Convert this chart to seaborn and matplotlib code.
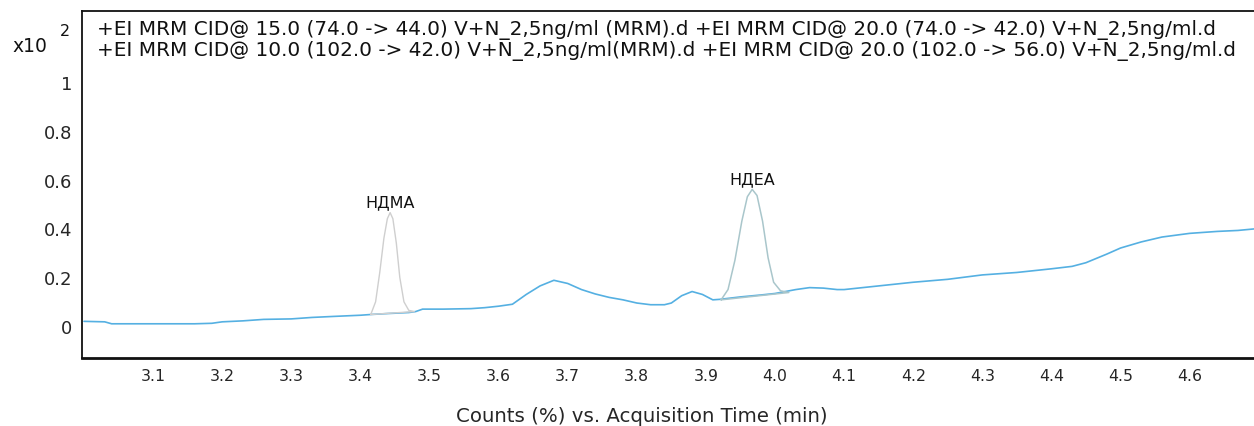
import matplotlib
matplotlib.use("Agg")
import matplotlib.pyplot as plt
import seaborn as sns
import pandas as pd

# ---- data (response in units of x10^2 counts) ----
time_trace = [3.000, 3.030, 3.040, 3.080, 3.120, 3.160, 3.185, 3.200, 3.230, 3.260,
              3.300, 3.330, 3.360, 3.400, 3.415, 3.440, 3.470, 3.480, 3.490, 3.520,
              3.560, 3.580, 3.600, 3.620, 3.640, 3.660, 3.680, 3.700, 3.720, 3.740,
              3.760, 3.780, 3.800, 3.820, 3.840, 3.850, 3.865, 3.880, 3.895, 3.910,
              3.920, 3.950, 3.980, 4.000, 4.030, 4.050, 4.070, 4.090, 4.100, 4.150,
              4.200, 4.250, 4.300, 4.350, 4.400, 4.430, 4.450, 4.480, 4.500, 4.530,
              4.560, 4.600, 4.640, 4.670, 4.700]
resp_trace = [0.020, 0.018, 0.010, 0.010, 0.010, 0.010, 0.012, 0.018, 0.022, 0.028,
              0.030, 0.036, 0.040, 0.045, 0.048, 0.052, 0.056, 0.060, 0.070, 0.070,
              0.072, 0.076, 0.082, 0.090, 0.130, 0.165, 0.188, 0.175, 0.150, 0.132,
              0.118, 0.108, 0.095, 0.088, 0.088, 0.095, 0.125, 0.142, 0.130, 0.108,
              0.110, 0.120, 0.128, 0.134, 0.150, 0.158, 0.156, 0.150, 0.150, 0.165,
              0.180, 0.192, 0.210, 0.220, 0.235, 0.245, 0.260, 0.295, 0.320, 0.345,
              0.365, 0.380, 0.388, 0.392, 0.400]

time_ndma = [3.415, 3.422, 3.428, 3.434, 3.439, 3.443, 3.447, 3.452, 3.457, 3.463,
             3.470, 3.478, 3.415]
resp_ndma = [0.048, 0.100, 0.220, 0.360, 0.440, 0.465, 0.440, 0.340, 0.200, 0.100,
             0.065, 0.060, 0.048]

time_ndea = [3.922, 3.932, 3.942, 3.952, 3.960, 3.967, 3.974, 3.982, 3.990, 3.998,
             4.008, 4.020, 3.922]
resp_ndea = [0.108, 0.150, 0.270, 0.430, 0.530, 0.560, 0.535, 0.430, 0.280, 0.180,
             0.145, 0.138, 0.108]

peak_names = ["НДМА", "НДЕА"]
peak_times = [3.443, 3.967]
peak_heights = [0.465, 0.560]

header_lines = [
    "+EI MRM CID@ 15.0 (74.0 -> 44.0) V+N_2,5ng/ml (MRM).d +EI MRM CID@ 20.0 (74.0 -> 42.0) V+N_2,5ng/ml.d",
    "+EI MRM CID@ 10.0 (102.0 -> 42.0) V+N_2,5ng/ml(MRM).d +EI MRM CID@ 20.0 (102.0 -> 56.0) V+N_2,5ng/ml.d",
]
x_ticks = [3.0, 3.1, 3.2, 3.3, 3.4, 3.5, 3.6, 3.7, 3.8, 3.9, 4.0, 4.1, 4.2, 4.3, 4.4, 4.5, 4.6]
x_labels = ["", "3.1", "3.2", "3.3", "3.4", "3.5", "3.6", "3.7", "3.8", "3.9", "4.0",
            "4.1", "4.2", "4.3", "4.4", "4.5", "4.6"]
y_ticks = [0, 0.2, 0.4, 0.6, 0.8, 1]
y_labels = ["0", "0.2", "0.4", "0.6", "0.8", "1"]

sns.set_style("white")
plt.rcParams["font.family"] = ["DejaVu Sans"]

W, H = 1254, 427
PX_PER_MIN = 691.0
fig = plt.figure(figsize=(W / 100, H / 100), dpi=100)
ax_w_px = W - 82 + 10
ax = fig.add_axes([82 / W, 1 - 359 / H, ax_w_px / W, (359 - 12) / H])

df_trace = pd.DataFrame({"t": time_trace, "r": resp_trace})
df_ndma = pd.DataFrame({"t": time_ndma, "r": resp_ndma})
df_ndea = pd.DataFrame({"t": time_ndea, "r": resp_ndea})

sns.lineplot(data=df_trace, x="t", y="r", ax=ax, sort=False, estimator=None,
             color="#55b0e2", linewidth=1.2, zorder=3)
sns.lineplot(data=df_ndma, x="t", y="r", ax=ax, sort=False, estimator=None,
             color="#cfcfcf", linewidth=1.0, zorder=4)
sns.lineplot(data=df_ndea, x="t", y="r", ax=ax, sort=False, estimator=None,
             color="#a9c6cb", linewidth=1.1, zorder=4)

for name, t, h in zip(peak_names, peak_times, peak_heights):
    ax.annotate(name, (t, h), xytext=(0, 8), textcoords="offset points",
                ha="center", va="center", fontsize=11.5, color="#111111")

x0 = 3.0 - 2 / PX_PER_MIN
ax.set_xlim(x0, x0 + ax_w_px / PX_PER_MIN)
ax.set_ylim(-0.13, 1.29)
ax.set_xticks(x_ticks)
ax.set_xticklabels(x_labels, fontsize=11.3)
ax.set_yticks(y_ticks)
ax.set_yticklabels(y_labels, fontsize=13)
ax.tick_params(axis="both", which="major", direction="out", length=3, width=0.8,
               color="#333333", pad=4)
ax.set_xlabel("Counts (%) vs. Acquisition Time (min)", fontsize=14.2)
ax.xaxis.set_label_coords((642 - 82) / ax_w_px, -(416 - 359) / (359 - 12))
ax.xaxis.label.set_va("center")
ax.set_ylabel("")

for side in ["left", "bottom", "top"]:
    ax.spines[side].set_visible(True)
    ax.spines[side].set_color("#111111")
ax.spines["left"].set_linewidth(1.3)
ax.spines["bottom"].set_linewidth(2.0)
ax.spines["top"].set_linewidth(1.3)
ax.spines["right"].set_visible(False)

fig.text(97 / W, 1 - 30 / H, header_lines[0], ha="left", va="center",
         fontsize=14.4, color="#111111")
fig.text(97 / W, 1 - 51 / H, header_lines[1], ha="left", va="center",
         fontsize=14.4, color="#111111")

fig.text(12 / W, 1 - 46 / H, "x10", fontsize=13.5, ha="left", va="center", color="#111111")
fig.text(60 / W, 1 - 32 / H, "2", fontsize=11.5, ha="left", va="center", color="#111111")

fig.savefig("out.png", dpi=100)
